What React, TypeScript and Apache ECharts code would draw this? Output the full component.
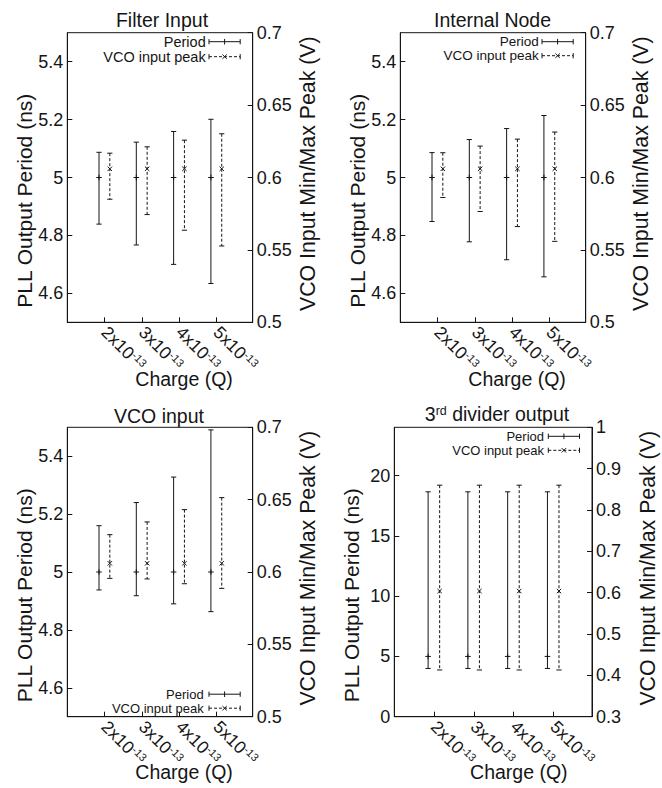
import React, { useEffect, useRef } from 'react';
import * as echarts from 'echarts';

// ---------- data ----------
const charges = [2, 3, 4, 5];
const chargeTickLabels = ['2x10', '3x10', '4x10', '5x10'];
const chargeExponent = '-13';

// Filter Input
const filterPeriodMid = [5, 5, 5, 5];
const filterPeriodMin = [4.839, 4.767, 4.7, 4.634];
const filterPeriodMax = [5.087, 5.122, 5.159, 5.201];
const filterVcoMid = [0.606, 0.606, 0.606, 0.606];
const filterVcoMin = [0.585, 0.5744, 0.5636, 0.5527];
const filterVcoMax = [0.6168, 0.6212, 0.6258, 0.6302];

// Internal Node
const internalPeriodMid = [5, 5, 5, 5];
const internalPeriodMin = [4.848, 4.778, 4.716, 4.657];
const internalPeriodMax = [5.086, 5.131, 5.169, 5.214];
const internalVcoMid = [0.606, 0.606, 0.606, 0.606];
const internalVcoMin = [0.5862, 0.5765, 0.5661, 0.5559];
const internalVcoMax = [0.6171, 0.6217, 0.6265, 0.6314];

// VCO input
const vcoNodePeriodMid = [5, 5, 5, 5];
const vcoNodePeriodMin = [4.938, 4.918, 4.89, 4.863];
const vcoNodePeriodMax = [5.16, 5.24, 5.328, 5.491];
const vcoNodeVcoMid = [0.606, 0.606, 0.606, 0.606];
const vcoNodeVcoMin = [0.5956, 0.5952, 0.5919, 0.5887];
const vcoNodeVcoMax = [0.6258, 0.6346, 0.6431, 0.6514];

// 3rd divider output
const dividerPeriodMid = [5, 5, 5, 5];
const dividerPeriodMin = [4.0, 4.0, 4.0, 4.0];
const dividerPeriodMax = [18.65, 18.65, 18.65, 18.65];
const dividerVcoMid = [0.604, 0.604, 0.604, 0.604];
const dividerVcoMin = [0.413, 0.413, 0.413, 0.413];
const dividerVcoMax = [0.86, 0.86, 0.86, 0.86];

// axis ticks
const periodTicksNs = [4.6, 4.8, 5, 5.2, 5.4];
const peakTicksV = [0.5, 0.55, 0.6, 0.65, 0.7];
const dividerPeriodTicks = [0, 5, 10, 15, 20];
const dividerPeakTicks = [0.3, 0.4, 0.5, 0.6, 0.7, 0.8, 0.9, 1];

const titles = ['Filter Input', 'Internal Node', 'VCO input', '{t|3}{s|rd}{t| divider output}'];
const leftAxisName = 'PLL Output Period (ns)';
const rightAxisName = 'VCO Input Min/Max Peak (V)';
const xAxisName = 'Charge (Q)';
const legendNames = ['Period', 'VCO input peak'];

// ---------- styling ----------
const FONT = '"Liberation Sans", Arial, Helvetica, sans-serif';
const INK = '#151515';
const PERIOD_OFFSET = -0.15;
const VCO_OFFSET = 0.14;

const panels = [
  {
    rect: { left: 67.3, top: 32.7, width: 185.4, height: 289.6 },
    leftRange: [4.5, 5.5], leftTicks: periodTicksNs,
    rightRange: [0.5, 0.7], rightTicks: peakTicksV,
    period: [filterPeriodMid, filterPeriodMin, filterPeriodMax],
    vco: [filterVcoMid, filterVcoMin, filterVcoMax],
    title: { x: 162, y: 10 },
    legend: { rows: [9, 24], fromTop: true, font: 14.5, textRight: 47 },
    xNameDy: 57,
  },
  {
    rect: { left: 400.3, top: 32.7, width: 185.4, height: 289.6 },
    leftRange: [4.5, 5.5], leftTicks: periodTicksNs,
    rightRange: [0.5, 0.7], rightTicks: peakTicksV,
    period: [internalPeriodMid, internalPeriodMin, internalPeriodMax],
    vco: [internalVcoMid, internalVcoMin, internalVcoMax],
    title: { x: 492.5, y: 10 },
    legend: { rows: [9, 23], fromTop: true, font: 13.5, textRight: 47 },
    xNameDy: 57,
  },
  {
    rect: { left: 67.3, top: 427.3, width: 185.4, height: 289.4 },
    leftRange: [4.5, 5.5], leftTicks: periodTicksNs,
    rightRange: [0.5, 0.7], rightTicks: peakTicksV,
    period: [vcoNodePeriodMid, vcoNodePeriodMin, vcoNodePeriodMax],
    vco: [vcoNodeVcoMid, vcoNodeVcoMin, vcoNodeVcoMax],
    title: { x: 159, y: 406 },
    legend: { rows: [-22.5, -8.5], fromTop: false, font: 13, textRight: 49 },
    xNameDy: 55,
  },
  {
    rect: { left: 394.3, top: 427.3, width: 197.7, height: 289.4 },
    leftRange: [0, 24], leftTicks: dividerPeriodTicks,
    rightRange: [0.3, 1.0], rightTicks: dividerPeakTicks,
    period: [dividerPeriodMid, dividerPeriodMin, dividerPeriodMax],
    vco: [dividerVcoMid, dividerVcoMin, dividerVcoMax],
    title: { x: 497, y: 404 },
    legend: { rows: [9, 23], fromTop: true, font: 13, textRight: 48 },
    xNameDy: 55,
  },
];

const makeErrorBar = (dashed: boolean) => (params: any, api: any) => {
  const x = api.value(0);
  const mid = api.coord([x, api.value(1)]);
  const lo = api.coord([x, api.value(2)]);
  const hi = api.coord([x, api.value(3)]);
  const cap = 2.6;
  const stroke = { stroke: INK, lineWidth: 1 };
  const children: any[] = [
    {
      type: 'line',
      shape: { x1: hi[0], y1: hi[1], x2: lo[0], y2: lo[1] },
      style: dashed ? { ...stroke, lineDash: [3, 2] } : stroke,
    },
    { type: 'line', shape: { x1: hi[0] - cap, y1: hi[1], x2: hi[0] + cap, y2: hi[1] }, style: stroke },
    { type: 'line', shape: { x1: lo[0] - cap, y1: lo[1], x2: lo[0] + cap, y2: lo[1] }, style: stroke },
  ];
  if (dashed) {
    const m = 2.2;
    children.push(
      { type: 'line', shape: { x1: mid[0] - m, y1: mid[1] - m, x2: mid[0] + m, y2: mid[1] + m }, style: stroke },
      { type: 'line', shape: { x1: mid[0] - m, y1: mid[1] + m, x2: mid[0] + m, y2: mid[1] - m }, style: stroke },
    );
  } else {
    const m = 2.8;
    children.push(
      { type: 'line', shape: { x1: mid[0] - m, y1: mid[1], x2: mid[0] + m, y2: mid[1] }, style: stroke },
      { type: 'line', shape: { x1: mid[0], y1: mid[1] - m, x2: mid[0], y2: mid[1] + m }, style: stroke },
    );
  }
  return { type: 'group', children };
};

const legendGraphics = (p: any) => {
  const R = p.rect.left + p.rect.width;
  const B = p.rect.top + p.rect.height;
  const rows = p.legend.rows.map((d: number) => (p.legend.fromTop ? p.rect.top + d : B + d));
  const x1 = R - 43.7;
  const x2 = R - 12.5;
  const xm = (x1 + x2) / 2;
  const out: any[] = [];
  const stroke = { stroke: INK, lineWidth: 1 };
  rows.forEach((y: number, i: number) => {
    out.push({
      type: 'text', x: R - p.legend.textRight, y,
      style: {
        text: legendNames[i], font: `${p.legend.font}px ${FONT}`, fill: INK,
        textAlign: 'right', textVerticalAlign: 'middle',
      },
    });
    out.push({ type: 'line', shape: { x1, y1: y, x2, y2: y }, style: i === 1 ? { ...stroke, lineDash: [3, 2] } : stroke });
    out.push({ type: 'line', shape: { x1, y1: y - 2.6, x2: x1, y2: y + 2.6 }, style: stroke });
    out.push({ type: 'line', shape: { x1: x2, y1: y - 2.6, x2, y2: y + 2.6 }, style: stroke });
    if (i === 0) {
      out.push({ type: 'line', shape: { x1: xm, y1: y - 2.8, x2: xm, y2: y + 2.8 }, style: stroke });
    } else {
      out.push({ type: 'line', shape: { x1: xm - 2.2, y1: y - 2.2, x2: xm + 2.2, y2: y + 2.2 }, style: stroke });
      out.push({ type: 'line', shape: { x1: xm - 2.2, y1: y + 2.2, x2: xm + 2.2, y2: y - 2.2 }, style: stroke });
    }
  });
  return out;
};

const buildOption = () => {
  const grid: any[] = [];
  const xAxis: any[] = [];
  const yAxis: any[] = [];
  const series: any[] = [];
  const title: any[] = [];
  const graphic: any[] = [];

  panels.forEach((p, gi) => {
    grid.push({ ...p.rect, show: true, borderColor: INK, borderWidth: 1, backgroundColor: 'transparent' });
    xAxis.push({
      type: 'value', gridIndex: gi, min: 1, max: 5.97,
      axisLine: { show: true, lineStyle: { color: INK } },
      splitLine: { show: false },
      axisTick: { show: true, inside: true, length: 5, customValues: charges, lineStyle: { color: INK } },
      axisLabel: {
        customValues: charges, rotate: -45, margin: 7, color: INK,
        formatter: (v: number) => {
          const i = charges.indexOf(v);
          return i < 0 ? '' : `{b|${chargeTickLabels[i]}}{s|${chargeExponent}}`;
        },
        rich: {
          b: { fontSize: 17.5, fontFamily: FONT, color: INK },
          s: { fontSize: 11, fontFamily: FONT, color: INK, verticalAlign: 'top' },
        },
      },
    });
    const yBase = (range: number[], ticks: number[], pos: string) => ({
      type: 'value', gridIndex: gi, position: pos, min: range[0], max: range[1],
      axisLine: { show: true, lineStyle: { color: INK } },
      splitLine: { show: false },
      axisTick: { show: true, inside: true, length: 5, customValues: ticks, lineStyle: { color: INK } },
      axisLabel: { customValues: ticks, margin: 4, color: INK, fontSize: 18, fontFamily: FONT },
    });
    yAxis.push(yBase(p.leftRange, p.leftTicks, 'left'));
    yAxis.push(yBase(p.rightRange, p.rightTicks, 'right'));

    series.push({
      type: 'custom', name: legendNames[0], xAxisIndex: gi, yAxisIndex: gi * 2,
      renderItem: makeErrorBar(false),
      data: charges.map((c, i) => [c + PERIOD_OFFSET, p.period[0][i], p.period[1][i], p.period[2][i]]),
    });
    series.push({
      type: 'custom', name: legendNames[1], xAxisIndex: gi, yAxisIndex: gi * 2 + 1,
      renderItem: makeErrorBar(true),
      data: charges.map((c, i) => [c + VCO_OFFSET, p.vco[0][i], p.vco[1][i], p.vco[2][i]]),
    });

    title.push({
      text: titles[gi], left: p.title.x, top: p.title.y, textAlign: 'center', padding: 0,
      textStyle: {
        fontSize: 19.5, fontWeight: 'normal', fontFamily: FONT, color: INK,
        rich: {
          t: { fontSize: 19.5, fontWeight: 'normal', fontFamily: FONT, color: INK },
          s: { fontSize: 12.5, fontWeight: 'normal', fontFamily: FONT, color: INK, verticalAlign: 'top' },
        },
      },
    });

    const R = p.rect.left + p.rect.width;
    graphic.push({
      type: 'text', x: p.rect.left - 43.3, y: p.rect.top + 168, rotation: Math.PI / 2,
      style: { text: leftAxisName, font: `21px ${FONT}`, fill: INK, textAlign: 'center', textVerticalAlign: 'middle' },
    });
    graphic.push({
      type: 'text', x: R + 55.5, y: p.rect.top + 141, rotation: Math.PI / 2,
      style: { text: rightAxisName, font: `21.3px ${FONT}`, fill: INK, textAlign: 'center', textVerticalAlign: 'middle' },
    });
    graphic.push({
      type: 'text', x: p.rect.left + p.rect.width * 0.63, y: p.rect.top + p.rect.height + p.xNameDy,
      style: { text: xAxisName, font: `19.5px ${FONT}`, fill: INK, textAlign: 'center', textVerticalAlign: 'middle' },
    });
    graphic.push(...legendGraphics(p));
  });

  return {
    animation: false,
    backgroundColor: '#ffffff',
    title, grid, xAxis, yAxis, series, graphic,
  };
};

export default function App() {
  const ref = useRef<HTMLDivElement>(null);
  useEffect(() => {
    if (!ref.current) return;
    const chart = echarts.init(ref.current, undefined, { renderer: 'svg' });
    chart.setOption(buildOption() as any);
    return () => chart.dispose();
  }, []);
  return (
    <div
      ref={ref}
      style={{ position: 'fixed', left: 0, top: 0, width: 662, height: 788, background: '#fff' }}
    />
  );
}
